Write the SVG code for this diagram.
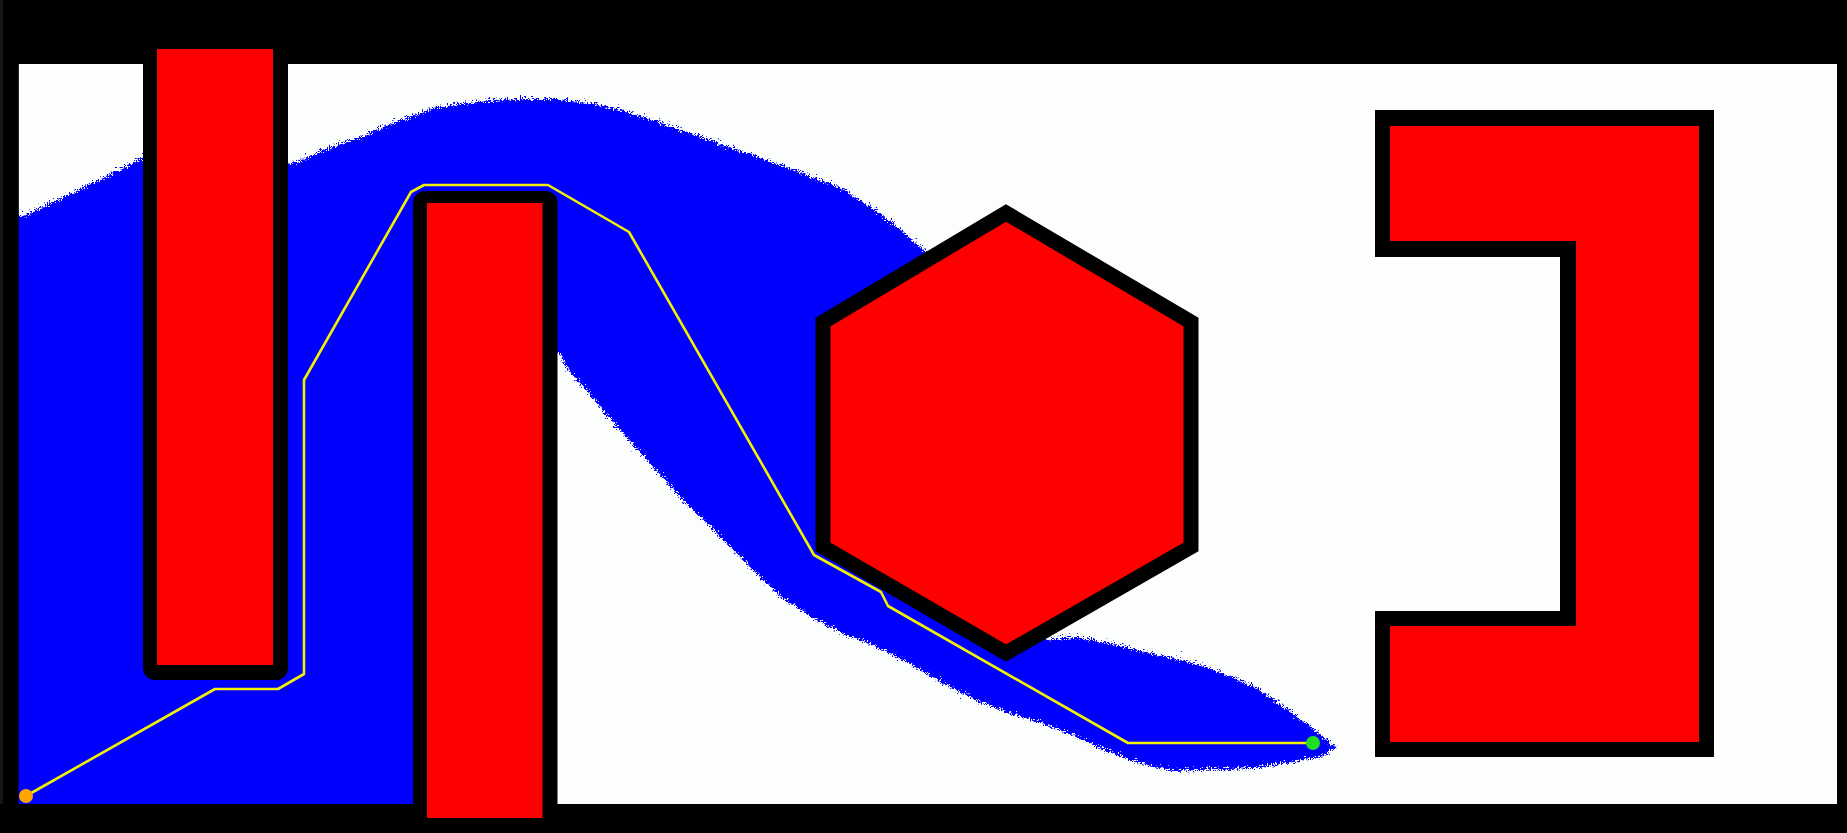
<svg xmlns="http://www.w3.org/2000/svg" width="1847" height="833" viewBox="0 0 1847 833">
<style>
.obs{fill:#ff0000}
.brd{fill:#000000}
.path{fill:none;stroke:#f2f200;stroke-width:2.6;stroke-linejoin:round;stroke-linecap:round}
</style>
<defs>
<filter id="fuzz" x="-3%" y="-3%" width="106%" height="106%">
<feTurbulence type="turbulence" baseFrequency="0.45" numOctaves="1" seed="7" result="n"/>
<feDisplacementMap in="SourceGraphic" in2="n" scale="11" xChannelSelector="R" yChannelSelector="G"/>
</filter>
</defs>
<rect x="0" y="0" width="1847" height="833" fill="#000"/>
<rect x="18.6" y="64" width="1818.4" height="740" fill="#fcfefc"/>
<g id="explored">
<path fill="#0000ff" filter="url(#fuzz)" d="M18,213 L60,193 L100,174 L141,153 L200,150 L288,160 L320,146 L356,133 L395,117 L435,103 L474,98 L515,95 L553,95 L590,100 L620,107 L683,128 L751,152 L800,170 L839,185 L880,212 L927,252 L1000,450 L1040,636 L1070,633 L1100,638 L1150,650 L1200,662 L1250,682 L1290,710 L1318,732 L1332,743 L1320,752 L1290,758 L1250,764 L1170,767 L1130,758 L1100,746 L1073,733 L1040,720 L1007,710 L973,697 L940,680 L907,660 L873,643 L840,630 L807,613 L773,590 L743,560 L707,523 L680,497 L645,458 L613,423 L560,360 L557,350 L480,350 L480,812 L10,812 L10,213 Z"/>
</g>
<g id="frame">
<rect x="0" y="0" width="1847" height="64" fill="#000"/>
<rect x="0" y="0" width="18.6" height="833" fill="#000"/>
<rect x="0" y="0" width="3" height="833" fill="#1c1414"/>
<rect x="1837" y="0" width="10" height="833" fill="#000"/>
<rect x="0" y="804" width="1847" height="29" fill="#000"/>
</g>
<g id="obstacle-left">
<rect class="brd" x="143" y="30" width="145" height="650" rx="12"/>
<rect class="obs" x="157" y="49" width="116" height="616"/>
</g>
<g id="obstacle-middle">
<rect class="brd" x="413" y="191" width="144.5" height="660" rx="12"/>
<rect class="obs" x="427" y="203" width="115.5" height="615"/>
</g>
<g id="obstacle-hexagon">
<polygon points="1006,213 823,322 823,547 1006,653 1191,547 1191,322" fill="#ff0000" stroke="#000" stroke-width="15" stroke-linejoin="miter"/>
</g>
<g id="obstacle-bracket">
<polygon class="brd" points="1375,110 1714,110 1714,757 1375,757 1375,611 1560,611 1560,257 1375,257"/>
<polygon class="obs" points="1390,126 1699,126 1699,742 1390,742 1390,626 1576,626 1576,241 1390,241"/>
</g>
<g id="connectors">
<polyline class="path" points="26,796 215,689 278,689 304,674 304,380 411,192 424,185 548,185 629,232 814,555 881,592 888,606 1128,743 1313,743"/>
</g>
<g id="start">
<circle cx="26" cy="796" r="7" fill="#ffa500"/>
</g>
<g id="goal">
<circle cx="1313" cy="743" r="7" fill="#22dd22"/>
</g>
</svg>
